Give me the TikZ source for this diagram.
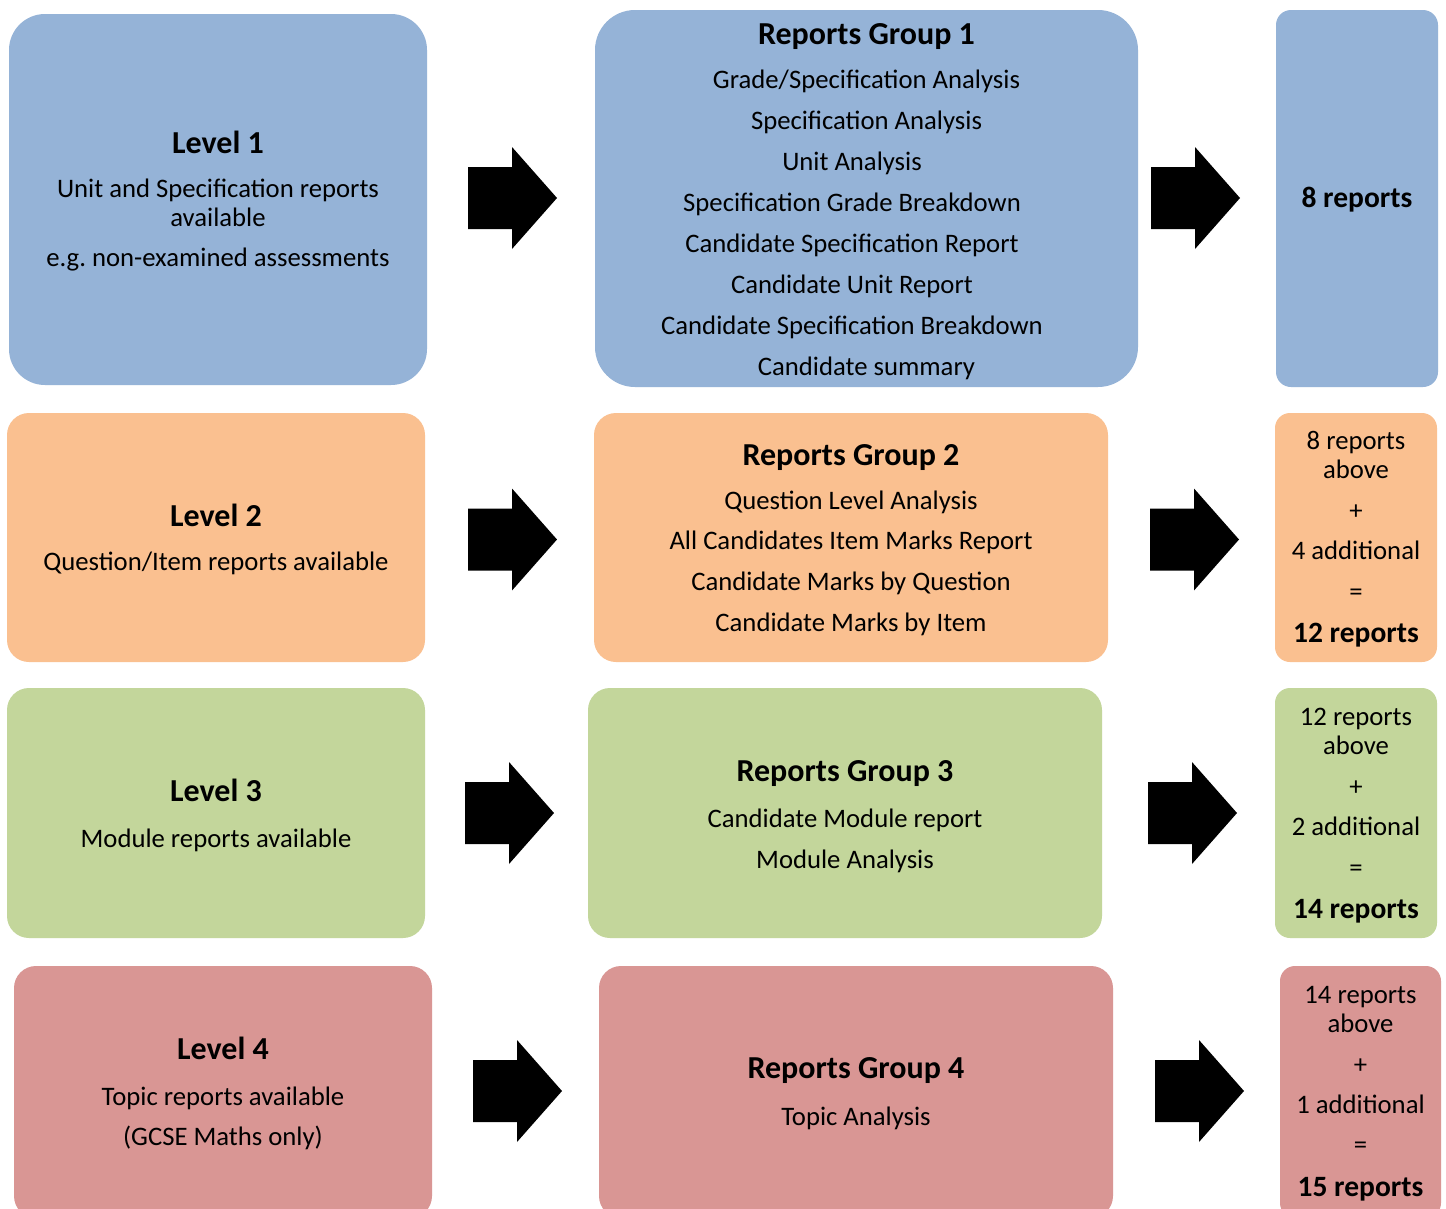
\documentclass[tikz,border=0pt]{standalone}
\usepackage{fontspec}
\setmainfont{Carlito}
\frenchspacing
\newcommand\ttl[1]{{\fontsize{32}{41}\selectfont\bfseries #1}}
\newcommand\btx[1]{{\fontsize{29.5}{41}\selectfont\bfseries #1}}
\newcommand\pad{\rule{29pt}{0pt}}
\definecolor{cblue}{HTML}{95B3D7}
\definecolor{corange}{HTML}{FAC090}
\definecolor{cgreen}{HTML}{C3D69B}
\definecolor{cred}{HTML}{D99694}
\tikzset{
  box/.style={inner sep=0pt, outer sep=0pt},
  txt/.style={inner sep=0pt, outer sep=0pt, align=center, text=black,
    font=\fontsize{26.7}{41}\selectfont},
  barrow/.pic={\fill[black] (0,-31) -- (44,-31) -- (44,-51) -- (89,0) -- (44,51) -- (44,31) -- (0,31) -- cycle;}
}
\begin{document}
\begin{tikzpicture}[x=1pt,y=-1pt]
\clip (0,0) rectangle (1446,1208);
\fill[white] (0,0) rectangle (1446,1208);
% row 1
\node[box, fill=cblue, rounded corners=36pt, minimum width=418pt, minimum height=371pt] (l1) at (218,199.5) {};
\node[txt] (l1t) at ([yshift=-2pt]l1.center)
  {\ttl{Level 1}\\[3pt] Unit and Specification reports\\[-12pt] available\\[-1pt] e.g.\ non-examined assessments};
\node[box, fill=cblue, rounded corners=40pt, minimum width=543pt, minimum height=377pt] (g1) at (866.5,198.5) {};
\node[txt] (g1t) at ([yshift=-3pt]g1.center)
  {\ttl{Reports Group 1}\\[3pt] Grade/Specification Analysis\\ Specification Analysis\\ Unit Analysis\pad\\ Specification Grade Breakdown\pad\\ Candidate Specification Report\pad\\ Candidate Unit Report\pad\\ Candidate Specification Breakdown\pad\\ Candidate summary};
\node[box, fill=cblue, rounded corners=15pt, minimum width=162pt, minimum height=377pt] (r1) at (1357,198.5) {};
\node[txt] (r1t) at ([yshift=-1pt]r1.center) {\btx{8 reports}};
\pic (a1) at (468,198) {barrow};
\pic (b1) at (1151,198) {barrow};
% row 2
\node[box, fill=corange, rounded corners=22pt, minimum width=418pt, minimum height=249pt] (l2) at (216,537.5) {};
\node[txt] (l2t) at ([yshift=-1.5pt]l2.center)
  {\ttl{Level 2}\\[3pt] Question/Item reports available};
\node[box, fill=corange, rounded corners=22pt, minimum width=514pt, minimum height=249pt] (g2) at (851,537.5) {};
\node[txt] (g2t) at ([yshift=-2.5pt]g2.center)
  {\ttl{Reports Group 2}\\[3pt] Question Level Analysis\\[-1pt] All Candidates Item Marks Report\\ Candidate Marks by Question\\ Candidate Marks by Item};
\node[box, fill=corange, rounded corners=15pt, minimum width=162pt, minimum height=249pt] (r2) at (1356,537.5) {};
\node[txt] (r2t) at ([yshift=-1.5pt]r2.center)
  {8 reports\\[-12pt] above\\ +\\[-1pt] 4 additional\\ =\\[1pt] \btx{12 reports}};
\pic (a2) at (468,539.5) {barrow};
\pic (b2) at (1150,539.5) {barrow};
% row 3
\node[box, fill=cgreen, rounded corners=22pt, minimum width=418pt, minimum height=250pt] (l3) at (216,813) {};
\node[txt] (l3t) at ([yshift=-2.5pt]l3.center)
  {\ttl{Level 3}\\[5pt] Module reports available};
\node[box, fill=cgreen, rounded corners=22pt, minimum width=514pt, minimum height=250pt] (g3) at (845,813) {};
\node[txt] (g3t) at ([yshift=-3.5pt]g3.center)
  {\ttl{Reports Group 3}\\[5pt] Candidate Module report\\ Module Analysis};
\node[box, fill=cgreen, rounded corners=15pt, minimum width=162pt, minimum height=250pt] (r3) at (1356,813) {};
\node[txt] (r3t) at ([yshift=-2.5pt]r3.center)
  {12 reports\\[-12pt] above\\ +\\[-1pt] 2 additional\\ =\\[1pt] \btx{14 reports}};
\pic (a3) at (465,813) {barrow};
\pic (b3) at (1148,813) {barrow};
% row 4
\node[box, fill=cred, rounded corners=22pt, minimum width=418pt, minimum height=252pt] (l4) at (223,1092) {};
\node[txt] (l4t) at ([yshift=-1.5pt]l4.center)
  {\ttl{Level 4}\\[5pt] Topic reports available\\[-1pt] (GCSE Maths only)};
\node[box, fill=cred, rounded corners=22pt, minimum width=514pt, minimum height=252pt] (g4) at (856,1092) {};
\node[txt] (g4t) at ([yshift=-2pt]g4.center)
  {\ttl{Reports Group 4}\\[6pt] Topic Analysis};
\node[box, fill=cred, rounded corners=15pt, minimum width=161pt, minimum height=252pt] (r4) at (1360.5,1092) {};
\node[txt] (r4t) at ([yshift=-1.5pt]r4.center)
  {14 reports\\[-12pt] above\\ +\\[-1pt] 1 additional\\[-1pt] =\\[2pt] \btx{15 reports}};
\pic (a4) at (473,1091) {barrow};
\pic (b4) at (1155,1091) {barrow};
\end{tikzpicture}
\end{document}
